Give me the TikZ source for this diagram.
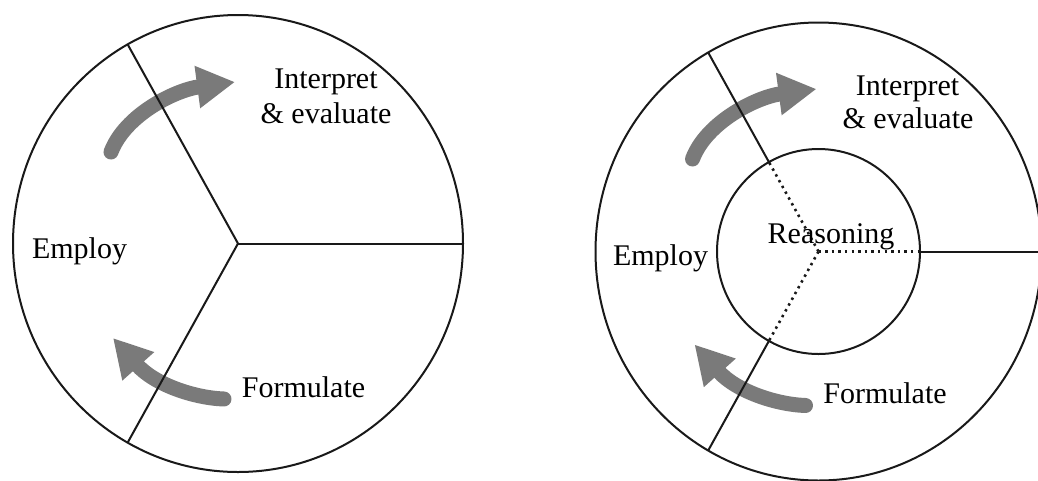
\documentclass[tikz,border=0pt]{standalone}
\usepackage{fontspec}
\setmainfont{Liberation Serif}
\usetikzlibrary{arrows.meta,shapes.geometric}
\definecolor{arrowgray}{RGB}{122,122,122}
\definecolor{linecol}{RGB}{25,25,25}
\begin{document}
\begin{tikzpicture}[x=1pt,y=-1pt,
  ring/.style={ellipse,draw=linecol,line width=2pt,inner sep=0pt,outer sep=0pt},
  spoke/.style={draw=linecol,line width=2pt},
  dotspoke/.style={draw=linecol,line width=2.6pt,dash pattern=on 2.4pt off 4.2pt},
  flow/.style={draw=arrowgray,line width=15pt,line cap=round,-{Triangle[length=38pt,width=40pt]}},
  lbl/.style={font=\fontsize{30}{36}\selectfont,anchor=base,inner sep=0pt,text=black}
]
\useasboundingbox (0,0) rectangle (1038,480);
\fill[white] (0,0) rectangle (1038,480);
\clip (0,0) rectangle (1038,480);

% ---------- left diagram ----------
\coordinate (Lc) at (238,243.5);
\node[ring,minimum width=450pt,minimum height=457pt] (Lring) at (Lc) {};
\coordinate (LaS) at (111,152);
\coordinate (LaT) at (235,82);
\coordinate (LbS) at (224,399);
\coordinate (LbT) at (113,338);
\draw[flow] (LaS) .. controls (125,115) and (175,90) .. (LaT);
\draw[flow] (LbS) .. controls (195,398) and (155,385) .. (LbT);
\draw[spoke] (Lc) -- (Lring.0);
\draw[spoke] (Lc) -- (Lring.119);
\draw[spoke] (Lc) -- (Lring.241);
\node[lbl] (Lint) at (326,88) {Interpret};
\node[lbl] (Leva) at (326,123) {\& evaluate};
\node[lbl] (Lemp) at (79.5,258) {Employ};
\node[lbl] (Lfor) at (303.5,397) {Formulate};

% ---------- right diagram ----------
\coordinate (Rc) at (818.5,251.5);
\node[ring,minimum width=446pt,minimum height=458pt] (Rring) at (Rc) {};
\node[ring,minimum width=203pt,minimum height=205pt] (Rin) at (Rc) {};
\coordinate (RaS) at (692.5,159);
\coordinate (RaT) at (816.5,89);
\coordinate (RbS) at (805.5,405.5);
\coordinate (RbT) at (694.5,344.5);
\draw[flow] (RaS) .. controls (706.5,122) and (756.5,97) .. (RaT);
\draw[flow] (RbS) .. controls (776.5,404.5) and (736.5,391.5) .. (RbT);
\draw[dotspoke] (Rc) -- (Rin.0);
\draw[dotspoke] (Rc) -- (Rin.119);
\draw[dotspoke] (Rc) -- (Rin.241);
\draw[spoke] (Rin.0) -- (Rring.0);
\draw[spoke] (Rin.119) -- (Rring.119);
\draw[spoke] (Rin.241) -- (Rring.241);
\node[lbl] (Rint) at (907.5,95) {Interpret};
\node[lbl] (Reva) at (908,128.5) {\& evaluate};
\node[lbl] (Rrea) at (831,243.5) {Reasoning};
\node[lbl] (Remp) at (660.5,265) {Employ};
\node[lbl] (Rfor) at (885,403) {Formulate};
\end{tikzpicture}
\end{document}
